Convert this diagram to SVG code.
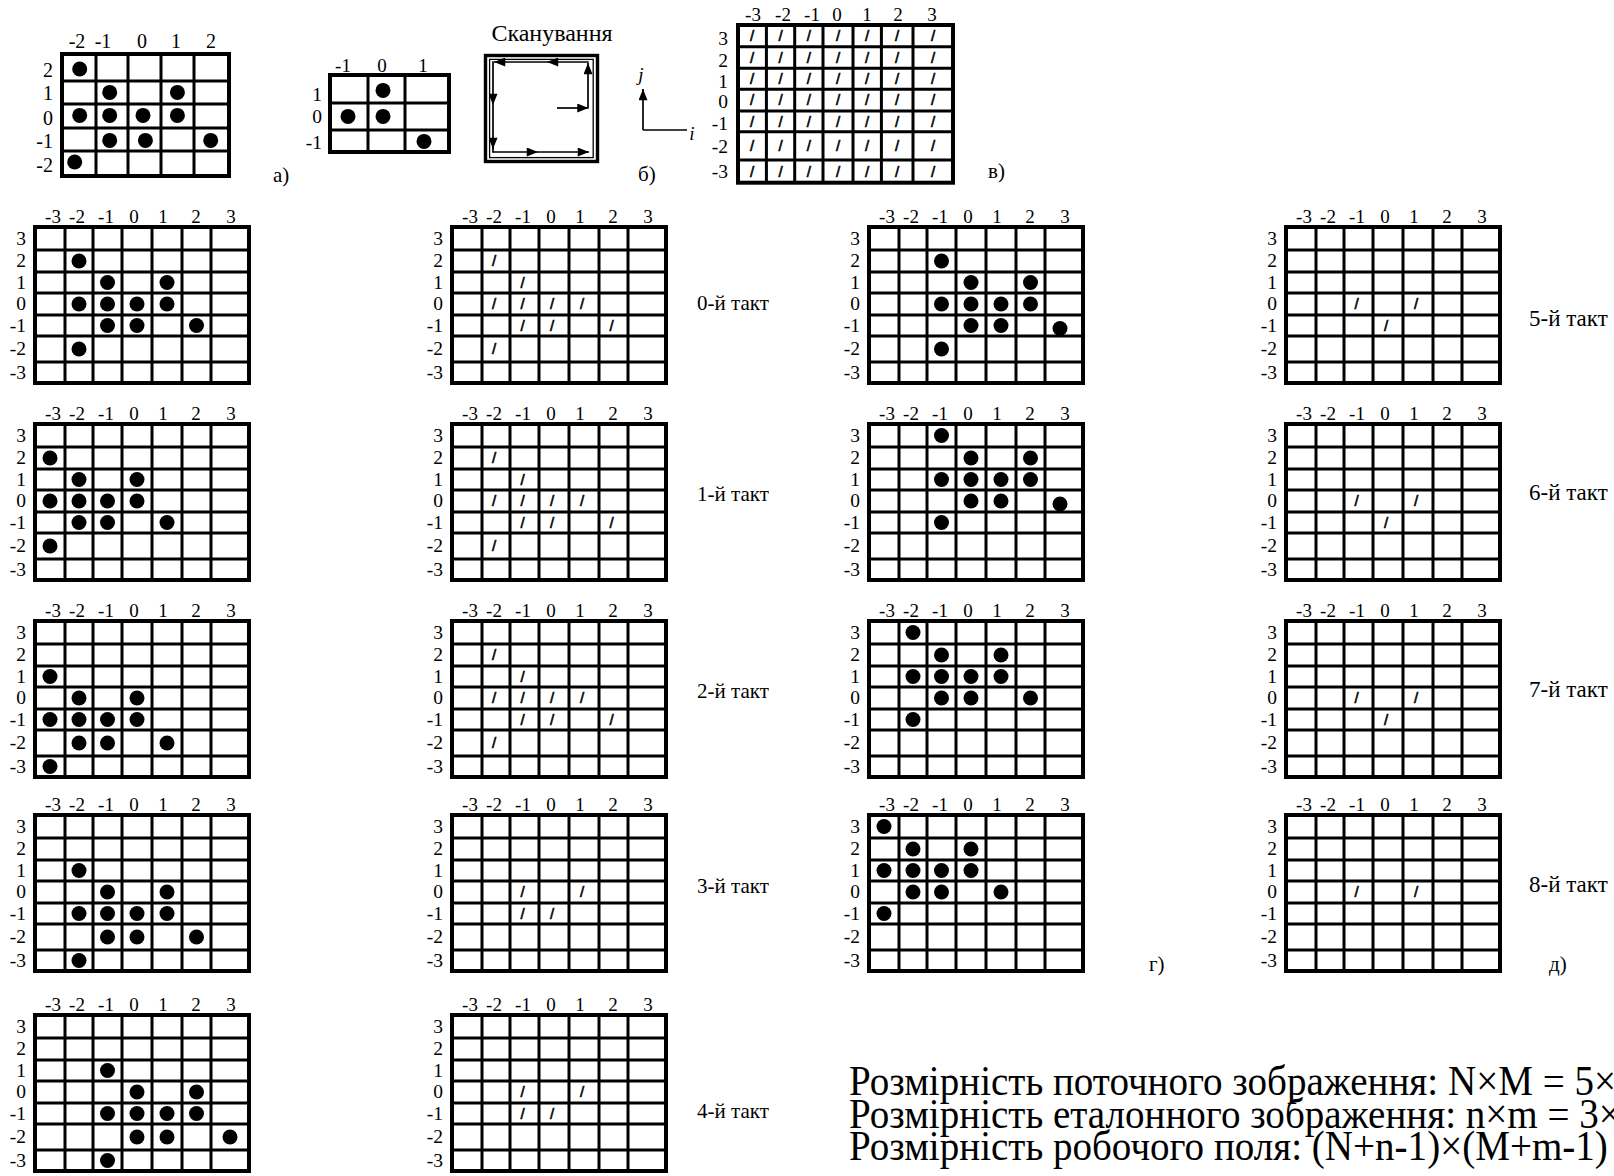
<svg xmlns="http://www.w3.org/2000/svg" width="1614" height="1176" viewBox="0 0 1614 1176">
<style>
text{font-family:"Liberation Serif","Times New Roman",serif;fill:#000}
.ln{fill:none;stroke:#000;stroke-width:3}
.ob{fill:none;stroke:#000;stroke-width:4}
.hd{font-size:19px;text-anchor:middle}
.rl{font-size:19.5px;text-anchor:end}
.hd2{font-size:20px;text-anchor:middle}
.rl2{font-size:20px;text-anchor:end}
.d{fill:#000}
.s{font-family:"Liberation Sans",Arial,sans-serif;font-size:15px;text-anchor:middle;stroke:#000;stroke-width:0.6}
.tk{font-size:21px}
.tk2{font-size:23px}
.lab{font-size:21px}
.big{font-size:42px}
.ar{fill:none;stroke:#000;stroke-width:1.7}
.it{font-style:italic;font-size:19px;text-anchor:middle}
</style>
<defs>
<marker id="ah" viewBox="0 0 10 8" refX="10" refY="4" markerWidth="12" markerHeight="9" markerUnits="userSpaceOnUse" orient="auto"><path d="M0,0L10,4L0,8z" fill="#000"/></marker>
<path id="g7" d="M30 0V156M58 0V156M87 0V156M117 0V156M147 0V156M176 0V156M0 23H214M0 45H214M0 66H214M0 88H214M0 109H214M0 135H214"/>
</defs>

<!-- a) -->
<g id="grid-a" transform="translate(62,54)">
<path class="ln" d="M34 0V122M66 0V122M99 0V122M132 0V122M0 27H167M0 50H167M0 74H167M0 97H167"/>
<rect class="ob" width="167" height="122"/>
<text class="hd2" y="-6"><tspan x="15">-2</tspan><tspan x="41">-1</tspan><tspan x="80">0</tspan><tspan x="114">1</tspan><tspan x="149">2</tspan></text>
<text class="rl2"><tspan x="-9" y="22.5">2</tspan><tspan x="-9" y="45.8">1</tspan><tspan x="-9" y="70.8">0</tspan><tspan x="-9" y="94.2">-1</tspan><tspan x="-9" y="117.5">-2</tspan></text>
<circle class="d" cx="17.7" cy="15" r="7.5"/><circle class="d" cx="47.7" cy="38.4" r="7.5"/><circle class="d" cx="115.4" cy="38.4" r="7.5"/>
<circle class="d" cx="17.7" cy="61.4" r="7.5"/><circle class="d" cx="47.7" cy="61.4" r="7.5"/><circle class="d" cx="81" cy="61.4" r="7.5"/><circle class="d" cx="115.4" cy="61.4" r="7.5"/>
<circle class="d" cx="47.7" cy="86.4" r="7.5"/><circle class="d" cx="83.4" cy="86.4" r="7.5"/><circle class="d" cx="148.7" cy="86.4" r="7.5"/>
<circle class="d" cx="12.7" cy="108" r="7.5"/>
</g>
<text id="label-a" class="lab" x="273" y="182">а)</text>

<!-- b) small reference -->
<g id="grid-b" transform="translate(330,75)">
<path class="ln" d="M38 0V77M75 0V77M0 28H119M0 55H119"/>
<rect class="ob" width="119" height="77"/>
<text class="hd" y="-3"><tspan x="13">-1</tspan><tspan x="52">0</tspan><tspan x="93">1</tspan></text>
<text class="rl"><tspan x="-8" y="26.2">1</tspan><tspan x="-8" y="48.2">0</tspan><tspan x="-8" y="74.2">-1</tspan></text>
<circle class="d" cx="53" cy="15.4" r="7.5"/><circle class="d" cx="18" cy="41.4" r="7.5"/><circle class="d" cx="53" cy="41.4" r="7.5"/><circle class="d" cx="94" cy="66.4" r="7.5"/>
</g>

<g id="scan">
<text x="552" y="41" font-size="24" text-anchor="middle">Сканування</text>
<rect x="485.5" y="55.5" width="112" height="106" fill="none" stroke="#000" stroke-width="3.4"/>
<rect x="489.6" y="59.4" width="103.6" height="98.2" fill="none" stroke="#000" stroke-width="1.3"/>
</g>

<g id="axes">
<line class="ar" x1="643" y1="130" x2="643" y2="89" marker-end="url(#ah)"/>
<line class="ar" x1="643" y1="130" x2="687" y2="130"/>
<text class="it" x="641" y="81">j</text>
<text class="it" x="692" y="140">i</text>
</g>
<text id="label-b" class="lab" x="638" y="181">б)</text>

<!-- в) -->
<g id="grid-v" transform="translate(738,25)">
<path class="ln" d="M28.4 0V157.7M56.7 0V157.7M85 0V157.7M115 0V157.7M143.4 0V157.7M175 0V157.7M0 21.7H215M0 43.3H215M0 64.3H215M0 86H215M0 106.7H215M0 135H215"/>
<rect class="ob" width="215" height="157.7"/>
<text class="hd" y="-4.5"><tspan x="15">-3</tspan><tspan x="45">-2</tspan><tspan x="74">-1</tspan><tspan x="99">0</tspan><tspan x="129">1</tspan><tspan x="160">2</tspan><tspan x="194">3</tspan></text>
<text class="rl"><tspan x="-10" y="19.8">3</tspan><tspan x="-10" y="41.5">2</tspan><tspan x="-10" y="62.5">1</tspan><tspan x="-10" y="83.2">0</tspan><tspan x="-10" y="104.8">-1</tspan><tspan x="-10" y="128.2">-2</tspan><tspan x="-10" y="153.2">-3</tspan></text>
<text class="s" x="14.2 42.5 70.9 100 129.2 159.2 195" y="16">///////</text>
<text class="s" x="14.2 42.5 70.9 100 129.2 159.2 195" y="37.7">///////</text>
<text class="s" x="14.2 42.5 70.9 100 129.2 159.2 195" y="59">///////</text>
<text class="s" x="14.2 42.5 70.9 100 129.2 159.2 195" y="80.4">///////</text>
<text class="s" x="14.2 42.5 70.9 100 129.2 159.2 195" y="101.5">///////</text>
<text class="s" x="14.2 42.5 70.9 100 129.2 159.2 195" y="126">///////</text>
<text class="s" x="14.2 42.5 70.9 100 129.2 159.2 195" y="151.5">///////</text>
</g>
<text id="label-v" class="lab" x="988" y="178">в)</text>

<!-- column 1 -->
<g id="c1r1" transform="translate(35,227)">
<use href="#g7" class="ln"/><rect class="ob" width="214" height="156"/>
<text class="hd" y="-4"><tspan x="18">-3</tspan><tspan x="42">-2</tspan><tspan x="71">-1</tspan><tspan x="99">0</tspan><tspan x="128">1</tspan><tspan x="161">2</tspan><tspan x="196">3</tspan></text>
<text class="rl"><tspan x="-9" y="18">3</tspan><tspan x="-9" y="40">2</tspan><tspan x="-9" y="62">1</tspan><tspan x="-9" y="83">0</tspan><tspan x="-9" y="105">-1</tspan><tspan x="-9" y="128">-2</tspan><tspan x="-9" y="152">-3</tspan></text>
<circle class="d" cx="44" cy="34" r="7.5"/><circle class="d" cx="72.5" cy="55.5" r="7.5"/><circle class="d" cx="132" cy="55.5" r="7.5"/><circle class="d" cx="44" cy="77" r="7.5"/><circle class="d" cx="72.5" cy="77" r="7.5"/><circle class="d" cx="102" cy="77" r="7.5"/><circle class="d" cx="132" cy="77" r="7.5"/><circle class="d" cx="72.5" cy="98.5" r="7.5"/><circle class="d" cx="102" cy="98.5" r="7.5"/><circle class="d" cx="161.5" cy="98.5" r="7.5"/><circle class="d" cx="44" cy="122" r="7.5"/>
</g>
<g id="c1r2" transform="translate(35,424)">
<use href="#g7" class="ln"/><rect class="ob" width="214" height="156"/>
<text class="hd" y="-4"><tspan x="18">-3</tspan><tspan x="42">-2</tspan><tspan x="71">-1</tspan><tspan x="99">0</tspan><tspan x="128">1</tspan><tspan x="161">2</tspan><tspan x="196">3</tspan></text>
<text class="rl"><tspan x="-9" y="18">3</tspan><tspan x="-9" y="40">2</tspan><tspan x="-9" y="62">1</tspan><tspan x="-9" y="83">0</tspan><tspan x="-9" y="105">-1</tspan><tspan x="-9" y="128">-2</tspan><tspan x="-9" y="152">-3</tspan></text>
<circle class="d" cx="15" cy="34" r="7.5"/><circle class="d" cx="44" cy="55.5" r="7.5"/><circle class="d" cx="102" cy="55.5" r="7.5"/><circle class="d" cx="15" cy="77" r="7.5"/><circle class="d" cx="44" cy="77" r="7.5"/><circle class="d" cx="72.5" cy="77" r="7.5"/><circle class="d" cx="102" cy="77" r="7.5"/><circle class="d" cx="44" cy="98.5" r="7.5"/><circle class="d" cx="72.5" cy="98.5" r="7.5"/><circle class="d" cx="132" cy="98.5" r="7.5"/><circle class="d" cx="15" cy="122" r="7.5"/>
</g>
<g id="c1r3" transform="translate(35,621)">
<use href="#g7" class="ln"/><rect class="ob" width="214" height="156"/>
<text class="hd" y="-4"><tspan x="18">-3</tspan><tspan x="42">-2</tspan><tspan x="71">-1</tspan><tspan x="99">0</tspan><tspan x="128">1</tspan><tspan x="161">2</tspan><tspan x="196">3</tspan></text>
<text class="rl"><tspan x="-9" y="18">3</tspan><tspan x="-9" y="40">2</tspan><tspan x="-9" y="62">1</tspan><tspan x="-9" y="83">0</tspan><tspan x="-9" y="105">-1</tspan><tspan x="-9" y="128">-2</tspan><tspan x="-9" y="152">-3</tspan></text>
<circle class="d" cx="15" cy="55.5" r="7.5"/><circle class="d" cx="44" cy="77" r="7.5"/><circle class="d" cx="102" cy="77" r="7.5"/><circle class="d" cx="15" cy="98.5" r="7.5"/><circle class="d" cx="44" cy="98.5" r="7.5"/><circle class="d" cx="72.5" cy="98.5" r="7.5"/><circle class="d" cx="102" cy="98.5" r="7.5"/><circle class="d" cx="44" cy="122" r="7.5"/><circle class="d" cx="72.5" cy="122" r="7.5"/><circle class="d" cx="132" cy="122" r="7.5"/><circle class="d" cx="15" cy="145.5" r="7.5"/>
</g>
<g id="c1r4" transform="translate(35,815)">
<use href="#g7" class="ln"/><rect class="ob" width="214" height="156"/>
<text class="hd" y="-4"><tspan x="18">-3</tspan><tspan x="42">-2</tspan><tspan x="71">-1</tspan><tspan x="99">0</tspan><tspan x="128">1</tspan><tspan x="161">2</tspan><tspan x="196">3</tspan></text>
<text class="rl"><tspan x="-9" y="18">3</tspan><tspan x="-9" y="40">2</tspan><tspan x="-9" y="62">1</tspan><tspan x="-9" y="83">0</tspan><tspan x="-9" y="105">-1</tspan><tspan x="-9" y="128">-2</tspan><tspan x="-9" y="152">-3</tspan></text>
<circle class="d" cx="44" cy="55.5" r="7.5"/><circle class="d" cx="72.5" cy="77" r="7.5"/><circle class="d" cx="132" cy="77" r="7.5"/><circle class="d" cx="44" cy="98.5" r="7.5"/><circle class="d" cx="72.5" cy="98.5" r="7.5"/><circle class="d" cx="102" cy="98.5" r="7.5"/><circle class="d" cx="132" cy="98.5" r="7.5"/><circle class="d" cx="72.5" cy="122" r="7.5"/><circle class="d" cx="102" cy="122" r="7.5"/><circle class="d" cx="161.5" cy="122" r="7.5"/><circle class="d" cx="44" cy="145.5" r="7.5"/>
</g>
<g id="c1r5" transform="translate(35,1015)">
<use href="#g7" class="ln"/><rect class="ob" width="214" height="156"/>
<text class="hd" y="-4"><tspan x="18">-3</tspan><tspan x="42">-2</tspan><tspan x="71">-1</tspan><tspan x="99">0</tspan><tspan x="128">1</tspan><tspan x="161">2</tspan><tspan x="196">3</tspan></text>
<text class="rl"><tspan x="-9" y="18">3</tspan><tspan x="-9" y="40">2</tspan><tspan x="-9" y="62">1</tspan><tspan x="-9" y="83">0</tspan><tspan x="-9" y="105">-1</tspan><tspan x="-9" y="128">-2</tspan><tspan x="-9" y="152">-3</tspan></text>
<circle class="d" cx="72.5" cy="55.5" r="7.5"/><circle class="d" cx="102" cy="77" r="7.5"/><circle class="d" cx="161.5" cy="77" r="7.5"/><circle class="d" cx="72.5" cy="98.5" r="7.5"/><circle class="d" cx="102" cy="98.5" r="7.5"/><circle class="d" cx="132" cy="98.5" r="7.5"/><circle class="d" cx="161.5" cy="98.5" r="7.5"/><circle class="d" cx="102" cy="122" r="7.5"/><circle class="d" cx="132" cy="122" r="7.5"/><circle class="d" cx="195" cy="122" r="7.5"/><circle class="d" cx="72.5" cy="145.5" r="7.5"/>
</g>

<!-- column 2 -->
<g id="c2r1" transform="translate(452,227)">
<use href="#g7" class="ln"/><rect class="ob" width="214" height="156"/>
<text class="hd" y="-4"><tspan x="18">-3</tspan><tspan x="42">-2</tspan><tspan x="71">-1</tspan><tspan x="99">0</tspan><tspan x="128">1</tspan><tspan x="161">2</tspan><tspan x="196">3</tspan></text>
<text class="rl"><tspan x="-9" y="18">3</tspan><tspan x="-9" y="40">2</tspan><tspan x="-9" y="62">1</tspan><tspan x="-9" y="83">0</tspan><tspan x="-9" y="105">-1</tspan><tspan x="-9" y="128">-2</tspan><tspan x="-9" y="152">-3</tspan></text>
<text class="s"><tspan x="42" y="39">/</tspan><tspan x="70.5" y="60.5">/</tspan><tspan x="42" y="82">/</tspan><tspan x="70.5" y="82">/</tspan><tspan x="100" y="82">/</tspan><tspan x="130" y="82">/</tspan><tspan x="70.5" y="103.5">/</tspan><tspan x="100" y="103.5">/</tspan><tspan x="159.5" y="103.5">/</tspan><tspan x="42" y="127">/</tspan></text>
</g>
<text class="tk" x="697" y="310">0-й такт</text>
<g id="c2r2" transform="translate(452,424)">
<use href="#g7" class="ln"/><rect class="ob" width="214" height="156"/>
<text class="hd" y="-4"><tspan x="18">-3</tspan><tspan x="42">-2</tspan><tspan x="71">-1</tspan><tspan x="99">0</tspan><tspan x="128">1</tspan><tspan x="161">2</tspan><tspan x="196">3</tspan></text>
<text class="rl"><tspan x="-9" y="18">3</tspan><tspan x="-9" y="40">2</tspan><tspan x="-9" y="62">1</tspan><tspan x="-9" y="83">0</tspan><tspan x="-9" y="105">-1</tspan><tspan x="-9" y="128">-2</tspan><tspan x="-9" y="152">-3</tspan></text>
<text class="s"><tspan x="42" y="39">/</tspan><tspan x="70.5" y="60.5">/</tspan><tspan x="42" y="82">/</tspan><tspan x="70.5" y="82">/</tspan><tspan x="100" y="82">/</tspan><tspan x="130" y="82">/</tspan><tspan x="70.5" y="103.5">/</tspan><tspan x="100" y="103.5">/</tspan><tspan x="159.5" y="103.5">/</tspan><tspan x="42" y="127">/</tspan></text>
</g>
<text class="tk" x="697" y="501">1-й такт</text>
<g id="c2r3" transform="translate(452,621)">
<use href="#g7" class="ln"/><rect class="ob" width="214" height="156"/>
<text class="hd" y="-4"><tspan x="18">-3</tspan><tspan x="42">-2</tspan><tspan x="71">-1</tspan><tspan x="99">0</tspan><tspan x="128">1</tspan><tspan x="161">2</tspan><tspan x="196">3</tspan></text>
<text class="rl"><tspan x="-9" y="18">3</tspan><tspan x="-9" y="40">2</tspan><tspan x="-9" y="62">1</tspan><tspan x="-9" y="83">0</tspan><tspan x="-9" y="105">-1</tspan><tspan x="-9" y="128">-2</tspan><tspan x="-9" y="152">-3</tspan></text>
<text class="s"><tspan x="42" y="39">/</tspan><tspan x="70.5" y="60.5">/</tspan><tspan x="42" y="82">/</tspan><tspan x="70.5" y="82">/</tspan><tspan x="100" y="82">/</tspan><tspan x="130" y="82">/</tspan><tspan x="70.5" y="103.5">/</tspan><tspan x="100" y="103.5">/</tspan><tspan x="159.5" y="103.5">/</tspan><tspan x="42" y="127">/</tspan></text>
</g>
<text class="tk" x="697" y="698">2-й такт</text>
<g id="c2r4" transform="translate(452,815)">
<use href="#g7" class="ln"/><rect class="ob" width="214" height="156"/>
<text class="hd" y="-4"><tspan x="18">-3</tspan><tspan x="42">-2</tspan><tspan x="71">-1</tspan><tspan x="99">0</tspan><tspan x="128">1</tspan><tspan x="161">2</tspan><tspan x="196">3</tspan></text>
<text class="rl"><tspan x="-9" y="18">3</tspan><tspan x="-9" y="40">2</tspan><tspan x="-9" y="62">1</tspan><tspan x="-9" y="83">0</tspan><tspan x="-9" y="105">-1</tspan><tspan x="-9" y="128">-2</tspan><tspan x="-9" y="152">-3</tspan></text>
<text class="s"><tspan x="70.5" y="82">/</tspan><tspan x="130" y="82">/</tspan><tspan x="70.5" y="103.5">/</tspan><tspan x="100" y="103.5">/</tspan></text>
</g>
<text class="tk" x="697" y="893">3-й такт</text>
<g id="c2r5" transform="translate(452,1015)">
<use href="#g7" class="ln"/><rect class="ob" width="214" height="156"/>
<text class="hd" y="-4"><tspan x="18">-3</tspan><tspan x="42">-2</tspan><tspan x="71">-1</tspan><tspan x="99">0</tspan><tspan x="128">1</tspan><tspan x="161">2</tspan><tspan x="196">3</tspan></text>
<text class="rl"><tspan x="-9" y="18">3</tspan><tspan x="-9" y="40">2</tspan><tspan x="-9" y="62">1</tspan><tspan x="-9" y="83">0</tspan><tspan x="-9" y="105">-1</tspan><tspan x="-9" y="128">-2</tspan><tspan x="-9" y="152">-3</tspan></text>
<text class="s"><tspan x="70.5" y="82">/</tspan><tspan x="130" y="82">/</tspan><tspan x="70.5" y="103.5">/</tspan><tspan x="100" y="103.5">/</tspan></text>
</g>
<text class="tk" x="697" y="1118">4-й такт</text>

<!-- column 3 -->
<g id="c3r1" transform="translate(869,227)">
<use href="#g7" class="ln"/><rect class="ob" width="214" height="156"/>
<text class="hd" y="-4"><tspan x="18">-3</tspan><tspan x="42">-2</tspan><tspan x="71">-1</tspan><tspan x="99">0</tspan><tspan x="128">1</tspan><tspan x="161">2</tspan><tspan x="196">3</tspan></text>
<text class="rl"><tspan x="-9" y="18">3</tspan><tspan x="-9" y="40">2</tspan><tspan x="-9" y="62">1</tspan><tspan x="-9" y="83">0</tspan><tspan x="-9" y="105">-1</tspan><tspan x="-9" y="128">-2</tspan><tspan x="-9" y="152">-3</tspan></text>
<circle class="d" cx="72.5" cy="34" r="7.5"/><circle class="d" cx="102" cy="55.5" r="7.5"/><circle class="d" cx="161.5" cy="55.5" r="7.5"/><circle class="d" cx="72.5" cy="77" r="7.5"/><circle class="d" cx="102" cy="77" r="7.5"/><circle class="d" cx="132" cy="77" r="7.5"/><circle class="d" cx="161.5" cy="77" r="7.5"/><circle class="d" cx="102" cy="98.5" r="7.5"/><circle class="d" cx="132" cy="98.5" r="7.5"/><circle class="d" cx="191" cy="101.5" r="7.5"/><circle class="d" cx="72.5" cy="122" r="7.5"/>
</g>
<g id="c3r2" transform="translate(869,424)">
<use href="#g7" class="ln"/><rect class="ob" width="214" height="156"/>
<text class="hd" y="-4"><tspan x="18">-3</tspan><tspan x="42">-2</tspan><tspan x="71">-1</tspan><tspan x="99">0</tspan><tspan x="128">1</tspan><tspan x="161">2</tspan><tspan x="196">3</tspan></text>
<text class="rl"><tspan x="-9" y="18">3</tspan><tspan x="-9" y="40">2</tspan><tspan x="-9" y="62">1</tspan><tspan x="-9" y="83">0</tspan><tspan x="-9" y="105">-1</tspan><tspan x="-9" y="128">-2</tspan><tspan x="-9" y="152">-3</tspan></text>
<circle class="d" cx="72.5" cy="11.5" r="7.5"/><circle class="d" cx="102" cy="34" r="7.5"/><circle class="d" cx="161.5" cy="34" r="7.5"/><circle class="d" cx="72.5" cy="55.5" r="7.5"/><circle class="d" cx="102" cy="55.5" r="7.5"/><circle class="d" cx="132" cy="55.5" r="7.5"/><circle class="d" cx="161.5" cy="55.5" r="7.5"/><circle class="d" cx="102" cy="77" r="7.5"/><circle class="d" cx="132" cy="77" r="7.5"/><circle class="d" cx="191" cy="80" r="7.5"/><circle class="d" cx="72.5" cy="98.5" r="7.5"/>
</g>
<g id="c3r3" transform="translate(869,621)">
<use href="#g7" class="ln"/><rect class="ob" width="214" height="156"/>
<text class="hd" y="-4"><tspan x="18">-3</tspan><tspan x="42">-2</tspan><tspan x="71">-1</tspan><tspan x="99">0</tspan><tspan x="128">1</tspan><tspan x="161">2</tspan><tspan x="196">3</tspan></text>
<text class="rl"><tspan x="-9" y="18">3</tspan><tspan x="-9" y="40">2</tspan><tspan x="-9" y="62">1</tspan><tspan x="-9" y="83">0</tspan><tspan x="-9" y="105">-1</tspan><tspan x="-9" y="128">-2</tspan><tspan x="-9" y="152">-3</tspan></text>
<circle class="d" cx="44" cy="11.5" r="7.5"/><circle class="d" cx="72.5" cy="34" r="7.5"/><circle class="d" cx="132" cy="34" r="7.5"/><circle class="d" cx="44" cy="55.5" r="7.5"/><circle class="d" cx="72.5" cy="55.5" r="7.5"/><circle class="d" cx="102" cy="55.5" r="7.5"/><circle class="d" cx="132" cy="55.5" r="7.5"/><circle class="d" cx="72.5" cy="77" r="7.5"/><circle class="d" cx="102" cy="77" r="7.5"/><circle class="d" cx="161.5" cy="77" r="7.5"/><circle class="d" cx="44" cy="98.5" r="7.5"/>
</g>
<g id="c3r4" transform="translate(869,815)">
<use href="#g7" class="ln"/><rect class="ob" width="214" height="156"/>
<text class="hd" y="-4"><tspan x="18">-3</tspan><tspan x="42">-2</tspan><tspan x="71">-1</tspan><tspan x="99">0</tspan><tspan x="128">1</tspan><tspan x="161">2</tspan><tspan x="196">3</tspan></text>
<text class="rl"><tspan x="-9" y="18">3</tspan><tspan x="-9" y="40">2</tspan><tspan x="-9" y="62">1</tspan><tspan x="-9" y="83">0</tspan><tspan x="-9" y="105">-1</tspan><tspan x="-9" y="128">-2</tspan><tspan x="-9" y="152">-3</tspan></text>
<circle class="d" cx="15" cy="11.5" r="7.5"/><circle class="d" cx="44" cy="34" r="7.5"/><circle class="d" cx="102" cy="34" r="7.5"/><circle class="d" cx="15" cy="55.5" r="7.5"/><circle class="d" cx="44" cy="55.5" r="7.5"/><circle class="d" cx="72.5" cy="55.5" r="7.5"/><circle class="d" cx="102" cy="55.5" r="7.5"/><circle class="d" cx="44" cy="77" r="7.5"/><circle class="d" cx="72.5" cy="77" r="7.5"/><circle class="d" cx="132" cy="77" r="7.5"/><circle class="d" cx="15" cy="98.5" r="7.5"/>
</g>
<text id="label-g" class="lab" x="1149" y="971">г)</text>

<!-- column 4 -->
<g id="c4r1" transform="translate(1286,227)">
<use href="#g7" class="ln"/><rect class="ob" width="214" height="156"/>
<text class="hd" y="-4"><tspan x="18">-3</tspan><tspan x="42">-2</tspan><tspan x="71">-1</tspan><tspan x="99">0</tspan><tspan x="128">1</tspan><tspan x="161">2</tspan><tspan x="196">3</tspan></text>
<text class="rl"><tspan x="-9" y="18">3</tspan><tspan x="-9" y="40">2</tspan><tspan x="-9" y="62">1</tspan><tspan x="-9" y="83">0</tspan><tspan x="-9" y="105">-1</tspan><tspan x="-9" y="128">-2</tspan><tspan x="-9" y="152">-3</tspan></text>
<text class="s"><tspan x="70.5" y="82">/</tspan><tspan x="130" y="82">/</tspan><tspan x="100" y="103.5">/</tspan></text>
</g>
<text class="tk2" x="1529" y="326">5-й такт</text>
<g id="c4r2" transform="translate(1286,424)">
<use href="#g7" class="ln"/><rect class="ob" width="214" height="156"/>
<text class="hd" y="-4"><tspan x="18">-3</tspan><tspan x="42">-2</tspan><tspan x="71">-1</tspan><tspan x="99">0</tspan><tspan x="128">1</tspan><tspan x="161">2</tspan><tspan x="196">3</tspan></text>
<text class="rl"><tspan x="-9" y="18">3</tspan><tspan x="-9" y="40">2</tspan><tspan x="-9" y="62">1</tspan><tspan x="-9" y="83">0</tspan><tspan x="-9" y="105">-1</tspan><tspan x="-9" y="128">-2</tspan><tspan x="-9" y="152">-3</tspan></text>
<text class="s"><tspan x="70.5" y="82">/</tspan><tspan x="130" y="82">/</tspan><tspan x="100" y="103.5">/</tspan></text>
</g>
<text class="tk2" x="1529" y="500">6-й такт</text>
<g id="c4r3" transform="translate(1286,621)">
<use href="#g7" class="ln"/><rect class="ob" width="214" height="156"/>
<text class="hd" y="-4"><tspan x="18">-3</tspan><tspan x="42">-2</tspan><tspan x="71">-1</tspan><tspan x="99">0</tspan><tspan x="128">1</tspan><tspan x="161">2</tspan><tspan x="196">3</tspan></text>
<text class="rl"><tspan x="-9" y="18">3</tspan><tspan x="-9" y="40">2</tspan><tspan x="-9" y="62">1</tspan><tspan x="-9" y="83">0</tspan><tspan x="-9" y="105">-1</tspan><tspan x="-9" y="128">-2</tspan><tspan x="-9" y="152">-3</tspan></text>
<text class="s"><tspan x="70.5" y="82">/</tspan><tspan x="130" y="82">/</tspan><tspan x="100" y="103.5">/</tspan></text>
</g>
<text class="tk2" x="1529" y="697">7-й такт</text>
<g id="c4r4" transform="translate(1286,815)">
<use href="#g7" class="ln"/><rect class="ob" width="214" height="156"/>
<text class="hd" y="-4"><tspan x="18">-3</tspan><tspan x="42">-2</tspan><tspan x="71">-1</tspan><tspan x="99">0</tspan><tspan x="128">1</tspan><tspan x="161">2</tspan><tspan x="196">3</tspan></text>
<text class="rl"><tspan x="-9" y="18">3</tspan><tspan x="-9" y="40">2</tspan><tspan x="-9" y="62">1</tspan><tspan x="-9" y="83">0</tspan><tspan x="-9" y="105">-1</tspan><tspan x="-9" y="128">-2</tspan><tspan x="-9" y="152">-3</tspan></text>
<text class="s"><tspan x="70.5" y="82">/</tspan><tspan x="130" y="82">/</tspan></text>
</g>
<text class="tk2" x="1529" y="892">8-й такт</text>
<text id="label-d" class="lab" x="1549" y="971">д)</text>

<g id="info" transform="translate(849,0) scale(0.93,1)">
<text class="big" x="0" y="1095">Розмірність поточного зображення: N×M = 5×</text>
<text class="big" x="0" y="1128">Розмірність еталонного зображення: n×m = 3×</text>
<text class="big" x="0" y="1160">Розмірність робочого поля: (N+n-1)×(M+m-1)</text>
</g>

<g id="connectors">
<line class="ar" x1="557" y1="108" x2="588.5" y2="108" marker-end="url(#ah)"/>
<line class="ar" x1="588" y1="108" x2="588" y2="63" marker-end="url(#ah)"/>
<line class="ar" x1="588.8" y1="62" x2="547" y2="62" marker-end="url(#ah)"/>
<line class="ar" x1="547" y1="62" x2="494" y2="62" marker-end="url(#ah)"/>
<line class="ar" x1="493" y1="61.2" x2="493" y2="105" marker-end="url(#ah)"/>
<line class="ar" x1="493" y1="105" x2="493" y2="149" marker-end="url(#ah)"/>
<line class="ar" x1="493" y1="152" x2="538" y2="152" marker-end="url(#ah)"/>
<line class="ar" x1="538" y1="152" x2="589" y2="152" marker-end="url(#ah)"/>
<line class="ar" x1="493" y1="148" x2="493" y2="152.8"/>
</g>
</svg>
